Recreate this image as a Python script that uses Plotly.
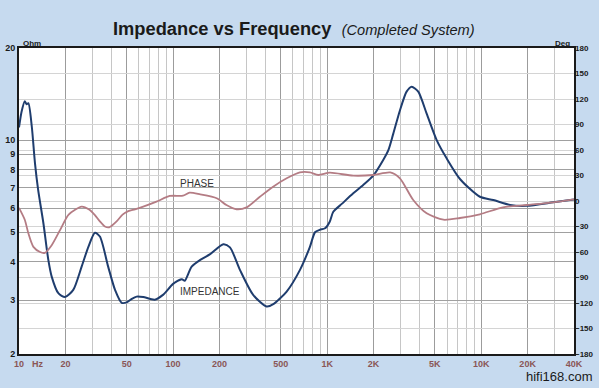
import plotly.graph_objects as go
import math

# ---- data ----
imp_freq = [10, 10.4, 10.9, 11.2, 11.5, 12.1, 12.7, 13.3, 14.4, 15.5, 16.3, 18.0, 19.9, 22.5, 25.5,
            28.2, 31.1, 33.5, 37.9, 42, 46.4, 50, 54, 58, 64, 76, 86, 100, 114, 119, 132, 150, 174,
            212, 234, 272, 331, 404, 447, 546, 665, 773, 834, 895, 969, 1039, 1096, 1250, 1477, 1714,
            1990, 2311, 2500, 2687, 2966, 3277, 3535, 3902, 4424, 5138, 5960, 7300, 9800, 11970,
            15360, 19700, 29300, 40000]
imp_ohm = [11.0, 12.4, 13.4, 13.1, 13.2, 11.1, 8.4, 6.9, 5.35, 4.06, 3.58, 3.16, 3.07, 3.24, 3.86,
           4.48, 4.98, 4.84, 3.86, 3.24, 2.94, 2.95, 3.03, 3.08, 3.07, 3.01, 3.12, 3.39, 3.51, 3.47, 3.86, 4.06, 4.24,
           4.57, 4.46, 3.76, 3.12, 2.86, 2.91, 3.20, 3.76, 4.48, 5.0, 5.09, 5.15, 5.41, 5.83, 6.2, 6.70, 7.13,
           7.65, 8.61, 9.29, 10.5, 12.5, 14.4, 14.95, 14.4, 12.2, 10.0, 8.72, 7.45, 6.53, 6.37,
           6.14, 6.10, 6.26, 6.40]

ph_freq = [10, 10.9, 11.5, 12.4, 13.7, 14.7, 16.3, 18.5, 21, 25.5, 28.5, 31.1, 33.5, 36.1, 38.5, 43,
           47, 51.2, 56.6, 64, 78, 95, 116, 128, 150, 192, 222, 258, 300, 366, 446, 546, 665, 773,
           875, 1039, 1477, 1990, 2567, 2966, 3620, 4424, 5680, 7275, 9800, 13800, 19700, 29300, 40000]
ph_deg = [-8, -22, -38, -54, -60, -61, -52, -34, -16, -6.7, -10, -16.5, -24, -30, -31, -24,
          -16, -12, -9.8, -6.7, -0.8, 5.9, 6.3, 9.8, 7.8, 3.2, -4.7, -9.8, -7.5, 5, 16.8, 26.7, 33.7, 33.7,
          30.6, 33.3, 29.8, 30.6, 33.7, 26.7, 1.2, -14.5, -22, -20, -15.6, -7.5, -4.7, -1.5, 2]

x_major = [10, 20, 50, 100, 200, 500, 1000, 2000, 5000, 10000, 20000, 40000]
x_labels = ['10', '20', '50', '100', '200', '500', '1K', '2K', '5K', '10K', '20K', '40K']
y_ticks = [2, 3, 4, 5, 6, 7, 8, 9, 10, 20]
ph_ticks = [-180, -150, -120, -90, -60, -30, 0, 30, 60, 90, 120, 150, 180]

x_minor = []
for dec in [10, 100, 1000, 10000]:
    for m in range(1, 10):
        v = dec * m
        if v not in x_major and v <= 40000:
            x_minor.append(v)

BG = '#c6daef'
IMP_C = '#1f3d6e'
PH_C = '#b47c84'
LBL_C = '#8a5656'

W, H = 599, 388
L, R, T, B = 19, 25, 48, 34
PW, PH = W - L - R, H - T - B

fig = go.Figure()
fig.add_trace(go.Scatter(x=ph_freq, y=ph_deg, yaxis='y2', mode='lines',
                         line=dict(color=PH_C, width=1.8, shape='spline', smoothing=0.7),
                         hoverinfo='skip', showlegend=False))
fig.add_trace(go.Scatter(x=imp_freq, y=imp_ohm, mode='lines',
                         line=dict(color=IMP_C, width=2, shape='spline', smoothing=0.7),
                         hoverinfo='skip', showlegend=False))

fig.update_layout(
    width=W, height=H,
    paper_bgcolor=BG, plot_bgcolor='white',
    margin=dict(l=L, r=R, t=T, b=B, autoexpand=False),
    font=dict(family='Liberation Sans, Arial, sans-serif'),
    xaxis=dict(type='log', range=[1, math.log10(40000)], tickvals=x_major, ticktext=x_labels,
               showgrid=True, gridcolor='#9c9c9c', gridwidth=1, automargin=False,
               minor=dict(tickmode='array', tickvals=x_minor, showgrid=True, gridcolor='#c6c6c6', ticklen=0),
               showline=True, linecolor='#1a1a1a', linewidth=2, mirror=True,
               tickfont=dict(size=9, color=LBL_C, weight='bold'),
               ticks='', zeroline=False),
    yaxis=dict(type='log', range=[math.log10(2), math.log10(20)], tickvals=y_ticks,
               ticktext=[str(v) for v in y_ticks], automargin=False,
               showgrid=True, gridcolor='#a0a0a0', gridwidth=1,
               showline=True, linecolor='#1a1a1a', linewidth=2, mirror=True,
               tickfont=dict(size=9, color='#1a1a1a', weight='bold'), ticks='', zeroline=False),
    yaxis2=dict(overlaying='y', side='right', range=[-180, 180], tickvals=ph_ticks, automargin=False,
                showgrid=True, gridcolor='#d4d4d4', gridwidth=1, zeroline=False,
                tickfont=dict(size=8, color='#1a1a1a', weight='bold'), ticks=''),
)


def pann(text, px, py, size, color='#222', xanchor='center', yanchor='middle'):
    fig.add_annotation(x=(px - L) / PW, y=(H - B - py) / PH, xref='paper', yref='paper', text=text,
                       showarrow=False, xanchor=xanchor, yanchor=yanchor,
                       font=dict(size=size, color=color))


pann("<b>Impedance vs Frequency</b>  <i><span style='font-size:14.6px'>(Completed System)</span></i>",
     293.5, 28, 18.3, color='#1a1a1a')
pann('<b>Ohm</b>', 21, 43, 8, color='#1a1a1a', xanchor='left')
pann('<b>Deg</b>', 572, 43, 8, color='#1a1a1a', xanchor='right')
pann('<b>Hz</b>', 30, 364, 9, color=LBL_C, xanchor='left')
pann('hifi168.com', 594, 376, 13, color='#1a1a1a', xanchor='right')

fig.add_annotation(x=math.log10(108), y=math.log10(7.24), xref='x', yref='y', text='PHASE',
                   showarrow=False, xanchor='left', font=dict(size=10, color='#333'))
fig.add_annotation(x=math.log10(108), y=math.log10(3.19), xref='x', yref='y', text='IMPEDANCE',
                   showarrow=False, xanchor='left', font=dict(size=10, color='#333'))

fig.write_html('out.html', config={'displayModeBar': False, 'staticPlot': True},
               post_script="document.body.style.margin='0';document.body.style.overflow='hidden';")
